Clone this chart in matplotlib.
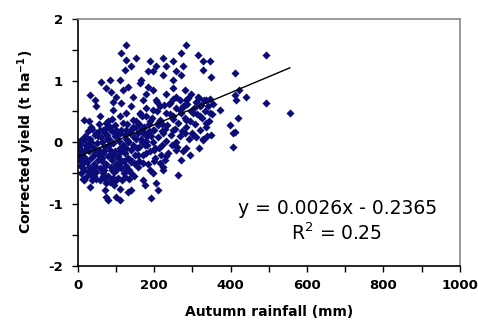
import matplotlib.pyplot as plt
from matplotlib.ticker import MultipleLocator

plt.rcParams['axes.unicode_minus'] = False
plt.rcParams['mathtext.default'] = 'bf'

# points, grouped in rows of ten (x in mm, y in t/ha)
rainfall = [
    3, 5, 8, 10, 12, 14, 16, 18, 20, 22,
    24, 26, 28, 30, 32, 34, 36, 38, 40, 42,
    44, 46, 48, 50, 52, 54, 56, 58, 60, 6,
    15, 25, 35, 45, 55, 33, 47, 28, 12, 4,
    62, 64, 66, 68, 70, 72, 74, 76, 78, 80,
    82, 84, 86, 88, 90, 92, 94, 96, 98, 100,
    102, 104, 106, 108, 110, 112, 114, 116, 118, 120,
    122, 124, 126, 128, 130, 132, 134, 136, 138, 140,
    142, 144, 146, 148, 150, 85, 95, 105, 115, 125,
    65, 75, 87, 97, 107, 117, 127, 137, 78, 90,
    152, 155, 158, 160, 163, 166, 170, 172, 175, 178,
    180, 183, 186, 190, 193, 196, 200, 203, 206, 210,
    213, 216, 220, 223, 226, 230, 233, 236, 240, 243,
    246, 250, 253, 256, 260, 263, 266, 270, 273, 276,
    280, 283, 286, 290, 293, 296, 300, 168, 188, 208,
    228, 248, 268, 288, 158, 198, 218, 238, 258, 278,
    303, 306, 310, 313, 316, 320, 323, 326, 330, 333,
    336, 340, 343, 346, 350, 308, 328, 318, 338, 355,
    127, 114, 127, 140, 153, 122, 188, 183, 166, 205,
    223, 231, 223, 249, 271, 284, 258, 275, 271, 249,
    314, 327, 345, 327, 349, 493, 410, 196, 83, 109,
    61, 31, 44, 48, 74, 87, 100, 92, 118, 131,
    144, 162, 183, 179, 196, 170, 205, 214, 231, 249,
    258, 280, 297, 284, 314, 336, 410, 423, 441, 415,
    493, 555, 140, 114, 240, 319, 275,
    17, 35, 57, 74, 92, 109, 127, 144, 162, 179,
    196, 214, 231, 249, 266, 284, 301, 319, 345, 336,
    371, 397, 406, 410, 419, 349, 327, 301, 280, 249,
    223, 196, 170, 153, 127, 100, 83, 66, 48, 22,
    9, 31,
    406, 284, 293, 258, 271, 231, 214, 223, 196, 170,
    179,
    262, 205, 210, 192, 170, 175, 140, 131, 109, 100,
    109, 74, 79, 70, 74, 57, 31, 17, 39, 66,
    122, 140, 100,
    2, 9, 18, 27, 37, 51, 63, 71, 81, 93,
    101, 111, 121, 131, 141, 151, 161, 171, 181, 191,
    7, 19, 29, 41, 53, 67, 77, 89, 99, 111,
    119, 133, 143, 157, 167, 177, 187, 201, 211, 221,
    13, 23, 43, 59, 69, 83, 93, 103, 113, 129,
    139, 149, 159, 169, 179, 189, 199, 209, 219, 229,
]
yield_corr = [
    -0.20, -0.28, -0.12, -0.35, 0.02, -0.22, -0.45, 0.10, -0.05, -0.30,
    -0.55, 0.18, -0.15, -0.40, 0.05, -0.25, -0.62, 0.22, -0.08, -0.35,
    -0.18, 0.12, -0.48, -0.02, -0.28, 0.30, -0.12, -0.42, 0.08, -0.05,
    -0.15, -0.32, 0.00, -0.38, -0.20, -0.50, -0.60, 0.35, -0.40, 0.00,
    -0.30, 0.00, -0.18, -0.45, 0.15, -0.08, -0.35, 0.25, -0.22, -0.55,
    0.05, -0.12, -0.40, 0.18, -0.28, -0.02, -0.48, 0.28, -0.15, -0.35,
    0.10, -0.22, -0.58, 0.02, -0.10, -0.42, 0.20, -0.30, -0.05, -0.50,
    0.12, -0.18, -0.38, 0.30, -0.25, 0.00, -0.45, 0.15, -0.12, -0.32,
    0.22, -0.05, -0.55, 0.08, -0.20, -0.65, -0.70, -0.25, -0.62, 0.05,
    -0.55, 0.05, -0.20, 0.10, -0.35, 0.32, -0.10, -0.28, 0.35, 0.38,
    0.35, -0.10, 0.15, -0.30, 0.45, 0.05, -0.20, 0.25, -0.05, 0.55,
    0.10, -0.35, 0.30, -0.15, 0.40, 0.00, 0.20, -0.25, 0.50, 0.08,
    -0.10, 0.35, 0.18, -0.40, 0.60, 0.02, 0.28, -0.18, 0.45, 0.12,
    -0.05, 0.38, 0.22, 0.55, -0.08, 0.32, 0.10, 0.48, 0.18, -0.15,
    0.40, 0.25, 0.62, 0.05, 0.35, 0.50, 0.15, 0.42, -0.45, 0.65,
    -0.28, 0.70, 0.68, 0.72, -0.40, -0.30, -0.20, 0.62, 0.00, 0.58,
    0.55, 0.30, 0.65, 0.45, 0.72, 0.20, 0.60, 0.40, 0.68, 0.50,
    0.25, 0.58, 0.35, 0.70, 0.45, 0.08, 0.05, -0.10, 0.10, 0.62,
    1.58, 1.44, 1.34, 1.23, 1.36, 1.17, 1.31, 1.15, 1.01, 1.23,
    1.36, 1.23, 1.09, 1.31, 1.44, 1.58, 1.15, 1.23, 1.09, 1.01,
    1.42, 1.31, 1.31, 1.17, 1.06, 1.42, 1.12, 1.15, 1.01, 1.01,
    0.98, 0.77, 0.69, 0.58, 0.88, 0.82, 0.74, 0.66, 0.85, 0.90,
    0.74, 0.96, 0.90, 0.79, 0.85, 0.69, 0.69, 0.58, 0.79, 0.88,
    0.74, 0.85, 0.79, 0.69, 0.74, 0.69, 0.77, 0.85, 0.74, 0.69,
    0.63, 0.47, 0.58, 0.63, 0.63, 0.58, 0.58,
    0.36, 0.25, 0.42, 0.31, 0.52, 0.42, 0.47, 0.36, 0.47, 0.42,
    0.52, 0.36, 0.47, 0.42, 0.52, 0.36, 0.47, 0.42, 0.47, 0.31,
    0.52, 0.28, 0.15, 0.17, 0.39, 0.12, 0.04, 0.12, 0.15, 0.20,
    0.15, 0.20, 0.17, 0.25, 0.20, 0.15, 0.25, 0.20, 0.15, 0.09,
    0.04, 0.01,
    -0.07, -0.10, -0.21, -0.12, -0.29, -0.23, -0.34, -0.45, -0.50, -0.34,
    -0.18,
    -0.53, -0.66, -0.77, -0.91, -0.61, -0.69, -0.77, -0.80, -0.75, -0.88,
    -0.94, -0.88, -0.94, -0.77, -0.66, -0.61, -0.72, -0.61, -0.56, -0.50,
    -0.56, -0.50, -0.61,
    -0.10, -0.50, -0.25, -0.05, -0.45, -0.15, -0.25, -0.60, -0.05, -0.20,
    -0.45, -0.15, -0.30, 0.02, -0.30, 0.05, -0.08, 0.15, -0.05, 0.10,
    -0.38, 0.05, -0.48, -0.20, 0.10, -0.40, 0.12, -0.45, 0.20, 0.15,
    -0.15, -0.60, 0.25, -0.20, 0.22, 0.02, 0.18, -0.10, 0.32, -0.05,
    -0.60, -0.08, -0.55, 0.20, -0.15, 0.22, -0.58, -0.40, -0.15, -0.45,
    0.20, -0.35, 0.30, 0.00, 0.12, 0.35, -0.12, 0.28, 0.30, 0.22,
]

slope = 0.0026
intercept = -0.2365

fig = plt.figure(figsize=(4.78, 3.2), dpi=100)
ax = fig.add_axes([0.163, 0.170, 0.799, 0.771])

ax.scatter(rainfall, yield_corr, marker='D', s=17, color='#0c0c78', linewidths=0, zorder=2)

x0, x1 = 0, max(rainfall)
ax.plot([x0, x1], [slope * x0 + intercept, slope * x1 + intercept], color='black', lw=1, zorder=3)

ax.set_xlim(0, 1000)
ax.set_ylim(-2, 2)
ax.set_xticks([0, 200, 400, 600, 800, 1000])
ax.xaxis.set_minor_locator(MultipleLocator(100))
ax.set_yticks([-2, -1, 0, 1, 2])
ax.yaxis.set_minor_locator(MultipleLocator(0.5))
ax.tick_params(which='both', direction='out', length=4, width=1, color='black')
ax.tick_params(axis='x', pad=6)
ax.tick_params(axis='y', pad=7)
for lab in ax.get_xticklabels() + ax.get_yticklabels():
    lab.set_fontweight('bold')
    lab.set_fontsize(9.5)

for side in ['left', 'bottom']:
    ax.spines[side].set_color('black')
    ax.spines[side].set_linewidth(1.2)
for side in ['top', 'right']:
    ax.spines[side].set_color('#888888')
    ax.spines[side].set_linewidth(1.2)

ax.set_xlabel('Autumn rainfall (mm)', fontsize=10, fontweight='bold', labelpad=9)
ax.set_ylabel('Corrected yield (t ha$^{-1}$)', fontsize=10, fontweight='bold', labelpad=8)

ax.text(681, -1.07, 'y = 0.0026x - 0.2365', ha='center', va='center', fontsize=13.5)
ax.text(677, -1.48, 'R$^\\mathregular{2}$ = 0.25', ha='center', va='center', fontsize=13.5)

fig.savefig('out.png', dpi=100)
